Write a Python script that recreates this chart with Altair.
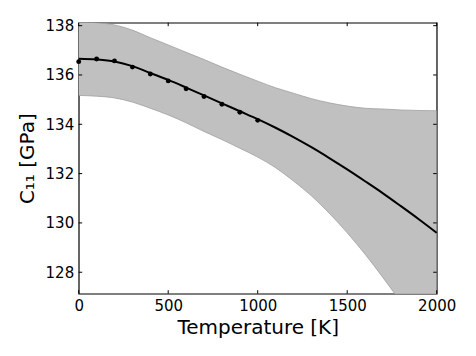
import altair as alt
import pandas as pd

# Fitted curve and uncertainty band
curve_T = [0, 100, 200, 300, 400, 500, 600, 700, 800, 900, 1000,
           1100, 1200, 1300, 1400, 1500, 1600, 1700, 1800, 1900, 2000]
curve_mean = [136.66, 136.63, 136.55, 136.36, 136.08, 135.80, 135.49, 135.17,
              134.85, 134.53, 134.21, 133.86, 133.48, 133.07, 132.63, 132.17,
              131.69, 131.20, 130.68, 130.15, 129.60]
band_upper = [138.15, 138.12, 138.03, 137.82, 137.51, 137.22, 136.92, 136.63,
              136.32, 136.03, 135.75, 135.48, 135.26, 135.04, 134.87, 134.74,
              134.65, 134.62, 134.58, 134.56, 134.55]
band_lower = [135.17, 135.14, 135.07, 134.90, 134.65, 134.38, 134.06, 133.71,
              133.38, 133.03, 132.67, 132.24, 131.70, 131.10, 130.39, 129.60,
              128.73, 127.78, 126.78, 125.74, 124.65]

# Measured points
pts_T = [0, 100, 200, 300, 400, 500, 600, 700, 800, 900, 1000]
pts_C = [136.54, 136.65, 136.57, 136.32, 136.04, 135.76, 135.44, 135.13,
         134.81, 134.49, 134.16]

x_ticks = [0, 500, 1000, 1500, 2000]
y_ticks = [128, 130, 132, 134, 136, 138]

W, H = 358, 271
TL = 3.5

curve = pd.DataFrame({"T": curve_T, "mean": curve_mean,
                      "upper": band_upper, "lower": band_lower})
pts = pd.DataFrame({"T": pts_T, "C": pts_C})
xt = pd.DataFrame({"v": x_ticks})
yt = pd.DataFrame({"v": y_ticks})

xs = alt.Scale(domain=[0, 2000], nice=False, zero=False)
ys = alt.Scale(domain=[127.13, 138.12], nice=False, zero=False)

xaxis = alt.Axis(values=x_ticks, format="d", grid=False, domain=False,
                 ticks=False, labelPadding=5, titlePadding=4,
                 labelFlush=False, labelOverlap=False,
                 title="Temperature [K]")
yaxis = alt.Axis(values=y_ticks, format="d", grid=False, domain=False,
                 ticks=False, labelPadding=5, titlePadding=8,
                 labelFlush=False, labelOverlap=False,
                 title="C₁₁ [GPa]")

band = alt.Chart(curve).mark_area(clip=True, color="#c0c0c0",
                                  interpolate="monotone").encode(
    x=alt.X("T:Q", scale=xs, axis=xaxis),
    y=alt.Y("upper:Q", scale=ys, axis=yaxis),
    y2="lower:Q",
)
edge_u = alt.Chart(curve).mark_line(clip=True, color="#a0a0a0", strokeWidth=0.8,
                                    interpolate="monotone").encode(
    x=alt.X("T:Q", scale=xs), y=alt.Y("upper:Q", scale=ys))
edge_l = alt.Chart(curve).mark_line(clip=True, color="#a0a0a0", strokeWidth=0.8,
                                    interpolate="monotone").encode(
    x=alt.X("T:Q", scale=xs), y=alt.Y("lower:Q", scale=ys))

line = alt.Chart(curve).mark_line(color="black", strokeWidth=2,
                                  interpolate="monotone").encode(
    x=alt.X("T:Q", scale=xs), y=alt.Y("mean:Q", scale=ys))

dots = alt.Chart(pts).mark_circle(color="black", size=24, opacity=1).encode(
    x=alt.X("T:Q", scale=xs), y=alt.Y("C:Q", scale=ys))

tick_style = dict(color="black", strokeWidth=1)
xt_top = alt.Chart(xt).mark_rule(**tick_style).encode(
    x=alt.X("v:Q", scale=xs), y=alt.value(0), y2=alt.value(TL))
xt_bot = alt.Chart(xt).mark_rule(**tick_style).encode(
    x=alt.X("v:Q", scale=xs), y=alt.value(H), y2=alt.value(H - TL))
yt_left = alt.Chart(yt).mark_rule(**tick_style).encode(
    y=alt.Y("v:Q", scale=ys), x=alt.value(0), x2=alt.value(TL))
yt_right = alt.Chart(yt).mark_rule(**tick_style).encode(
    y=alt.Y("v:Q", scale=ys), x=alt.value(W), x2=alt.value(W - TL))

chart = alt.layer(band, edge_u, edge_l, line, dots,
                  xt_top, xt_bot, yt_left, yt_right).properties(
    width=W, height=H,
    autosize=alt.AutoSizeParams(type="none"),
    padding={"left": 70.7, "top": 14.7, "right": 30, "bottom": 50},
).configure_view(
    stroke="black", strokeWidth=1.2
).configure_axis(
    labelFont="DejaVu Sans", labelFontSize=15, labelColor="black",
    titleFont="DejaVu Sans", titleFontSize=20, titleColor="black",
    titleFontWeight="normal",
)

chart.save("out.html", embed_options={"renderer": "svg", "actions": False})
